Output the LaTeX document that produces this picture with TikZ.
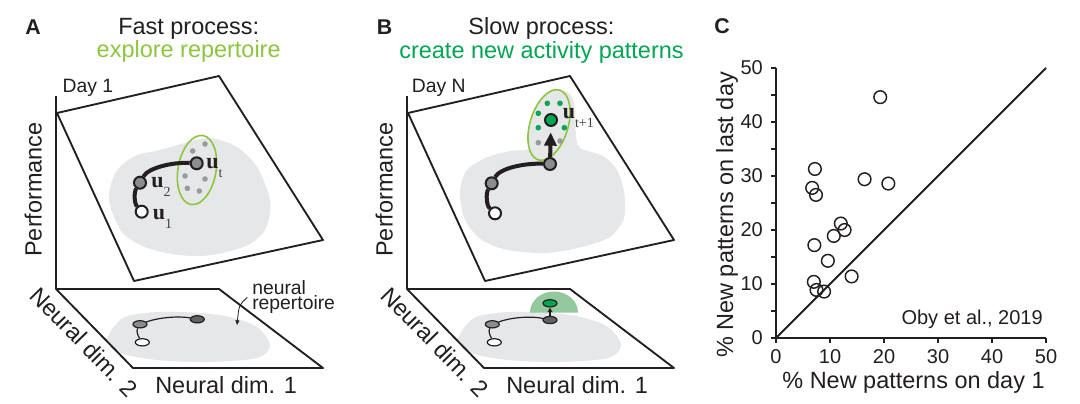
\documentclass[tikz,border=0pt]{standalone}
\usepackage{fontspec}
\setmainfont{Liberation Sans}
\newfontfamily\serifu{Liberation Serif}
\usetikzlibrary{arrows.meta,shapes.geometric}
\definecolor{inkgray}{HTML}{231F20}
\definecolor{blobgray}{HTML}{E6E7E8}
\definecolor{dotgray}{HTML}{9A9A9A}
\definecolor{nodegray}{HTML}{8C8C8C}
\definecolor{lightgreen}{HTML}{8CC63F}
\definecolor{darkgreen}{HTML}{00A651}
\definecolor{halogreen}{HTML}{93C99C}
\newcommand{\fs}[1]{\fontsize{#1}{#1}\selectfont}
\newcommand{\ulab}[1]{{\serifu\bfseries\fs{16.5}u}\raisebox{-7pt}{\serifu\fs{10.5}\color{black!75}#1}}
\tikzset{
  plane/.style={draw=inkgray,line width=1.4pt,line join=round},
  perfaxis/.style={draw=inkgray,line width=1.7pt},
  blob/.style={fill=blobgray},
  traj/.style={draw=inkgray,line width=3pt},
  thintraj/.style={draw=inkgray,line width=0.9pt},
  state/.style={circle,draw=inkgray,line width=1.5pt,minimum size=9pt,inner sep=0pt,fill=nodegray},
  startstate/.style={state,fill=white},
  newstate/.style={state,fill=darkgreen},
  flatstate/.style={ellipse,draw=inkgray,line width=0.9pt,minimum width=10.5pt,
    minimum height=5.4pt,inner sep=0pt,fill=nodegray},
  repellipse/.style={draw=lightgreen,line width=1.2pt},
  pointer/.style={draw=inkgray,line width=0.6pt,-{Triangle[length=3.5pt,width=3pt]}},
  paneltag/.style={font=\bfseries\fs{16},inner sep=0pt,anchor=base west},
  heading/.style={font=\fs{17.6},inner sep=0pt,anchor=base},
  axislab/.style={font=\fs{17.6},inner sep=0pt},
  daylab/.style={font=\fs{14.5},inner sep=0pt,anchor=base west},
  ulabel/.style={inner sep=0pt,anchor=base west},
  ticklab/.style={font=\fs{15},inner sep=0pt},
  tickmark/.style={draw=inkgray,line width=1pt},
  plotaxis/.style={draw=inkgray,line width=1.8pt},
  datapt/.style={circle,draw=inkgray,line width=1.1pt,minimum size=9.5pt,inner sep=0pt}
}
\begin{document}
\begin{tikzpicture}[x=0.75pt,y=-0.75pt,inkgray]
\fill[white] (0,0) rectangle (1080,403);
\useasboundingbox (0,0) rectangle (1080,403);
\foreach \dx/\p in {0/a,351/b}{
  \begin{scope}[shift={(\dx,0)}]
    \draw[plane] (57,113) -- (219,76) -- (323,240) -- (134,281) -- cycle;
    \fill[blob] plot[smooth cycle] coordinates {(107,340) (123,318) (157,312) (200,313)
      (230,317) (257,327) (270,345) (257,358) (207,362) (157,360) (120,353)};
    \draw[plane] (56,289) -- (219,289) -- (323,368) -- (133,368) -- cycle;
    \draw[perfaxis] (56,96) -- (56,289);
    \node[axislab,rotate=90,anchor=base] (perf\p) at (41.7,189.5) {Performance};
    \node[axislab,rotate=-45.7] (dimtwo\p) at (84,342) {Neural dim. 2};
    \node[axislab,anchor=base west] (dimone\p) at (155,393) {Neural dim. 1};
  \end{scope}}

\node[paneltag] (tagA) at (25,35) {A};
\node[heading] (headA) at (188.7,35) {Fast process:};
\node[heading,text=lightgreen] (subA) at (188.7,58) {explore repertoire};
\node[daylab] (dayA) at (62.3,92.7) {Day 1};
\fill[blob] plot[smooth cycle] coordinates {(109,200) (116,172) (135,156) (160,150) (185,143)
  (210,138) (237,147) (257,167) (270,200) (266,228) (248,245) (212,255) (178,255) (145,247) (122,232)};
\draw[repellipse,rotate around={-10:(197,170)}] (197,170) ellipse [x radius=19,y radius=35];
\foreach \x/\y in {192.7/151,205/144,185/176,205/179,187.3/188.3,199.3/191}
  \fill[dotgray] (\x,\y) circle [radius=2.8];
\node[startstate] (a1) at (141.7,211.7) {};
\node[state] (a2) at (140,182.7) {};
\node[state] (at) at (196.7,163.3) {};
\draw[traj] (a1) .. controls (134,203) and (134,192) .. (a2);
\draw[traj] (a2) .. controls (148,168) and (172,162) .. (at);
\node[ulabel] (atlab) at (206,168) {\ulab{t}};
\node[ulabel] (a2lab) at (151,187) {\ulab{2}};
\node[ulabel] (a1lab) at (152.5,219) {\ulab{1}};
\node[flatstate,fill=white] (a1f) at (142.3,342.3) {};
\node[flatstate] (a2f) at (140,324.3) {};
\node[flatstate,fill=nodegray!70!black] (atf) at (197.3,319.3) {};
\draw[thintraj] (a2f) .. controls (160,317) and (180,316) .. (atf);
\draw[thintraj] (a2f) .. controls (136,331) and (138,336) .. (a1f);
\node[font=\fontsize{14.5}{11.25}\selectfont,align=left,inner sep=0pt,anchor=north west]
  (nrep) at (252,280.5) {neural\\repertoire};
\coordinate (nrtip) at (237,325);
\draw[pointer] ([xshift=-3.5pt]nrep.west) .. controls (239,305) .. (nrtip);

\node[paneltag] (tagB) at (376.7,35) {B};
\node[heading] (headB) at (541.5,34.5) {Slow process:};
\node[heading,text=darkgreen] (subB) at (541.5,58.3) {create new activity patterns};
\node[daylab] (dayB) at (411.7,92.7) {Day N};
\fill[blob] plot[smooth cycle] coordinates {(460,192) (467,170) (488,157) (510,151) (530,148)
  (537,125) (543,102) (556,91) (570,94) (575,110) (576,135) (580,148) (603,156) (617,170)
  (624,192) (624,218) (610,237) (582,247) (546,253) (508,250) (482,240) (465,220)};
\draw[repellipse,fill=blobgray,rotate around={-17:(549,125)}] (549,125) ellipse [x radius=19,y radius=36.5];
\foreach \x/\y in {547.3/103.3,560/103.3,538.3/113.3,538.3/127.7,564.3/127.7}
  \fill[darkgreen] (\x,\y) circle [radius=2.8];
\foreach \x/\y in {538.3/142.7,560/141}
  \fill[dotgray] (\x,\y) circle [radius=2.8];
\node[startstate] (b1) at (495,213.3) {};
\node[state] (b2) at (491.7,183.3) {};
\node[state] (bt) at (550,164) {};
\node[newstate] (bn) at (551,120) {};
\draw[traj] (b1) .. controls (486,205) and (486,193) .. (b2);
\draw[traj] (b2) .. controls (500,168) and (525,163) .. (bt);
\draw[traj,-{Triangle[length=10pt,width=9pt]},shorten >=4pt] (bt) -- (bn);
\node[ulabel] (bnlab) at (562.5,118) {\ulab{t+1}};
\fill[halogreen] (530,312.5) arc [start angle=180,end angle=360,x radius=24,y radius=21] -- cycle;
\node[flatstate,fill=white] (b1f) at (494.3,342.3) {};
\node[flatstate] (b2f) at (492.3,324.3) {};
\node[flatstate,fill=nodegray!70!black] (btf) at (550,320) {};
\node[flatstate,fill=darkgreen] (bnf) at (550,303.3) {};
\draw[thintraj] (b2f) .. controls (512,317) and (532,316) .. (btf);
\draw[thintraj] (b2f) .. controls (488,331) and (490,336) .. (b1f);
\draw[thintraj,-{Triangle[length=3.5pt,width=3.5pt]}] (btf) -- (bnf);

\node[paneltag] (tagC) at (714,34) {C};
\begin{scope}[shift={(776,338)},x=4.05pt,y=4.05pt]
  \draw[inkgray,line width=1.5pt] (0,0) -- (50,50);
  \foreach \v in {0,5,...,50} \draw[tickmark] (0,\v) -- (-0.95,\v);
  \foreach \v in {0,10,...,50}{
    \draw[tickmark] (\v,0) -- (\v,-0.95);
    \node[ticklab,anchor=east] (yt\v) at (-2.4,\v) {\v};
    \node[ticklab] (xt\v) at (\v,-3.5) {\v};
  }
  \draw[plotaxis] (0,50) -- (0,0) -- (50,0);
  \foreach \px/\py [count=\k] in {19.3/44.6,7.2/31.3,16.4/29.4,20.8/28.6,6.7/27.8,7.4/26.5,
    12.0/21.2,12.7/20.0,10.7/18.9,7.1/17.2,9.6/14.3,14.0/11.4,7.0/10.4,7.5/8.9,8.9/8.6}
    \node[datapt] (pt\k) at (\px,\py) {};
\end{scope}
\node[axislab,anchor=base] (xtitle) at (913.5,388) {\% New patterns on day 1};
\node[axislab,rotate=90,anchor=base] (ytitle) at (733,215) {\% New patterns on last day};
\node[ticklab,anchor=base east] (source) at (1043,324) {Oby et al., 2019};
\end{tikzpicture}
\end{document}
